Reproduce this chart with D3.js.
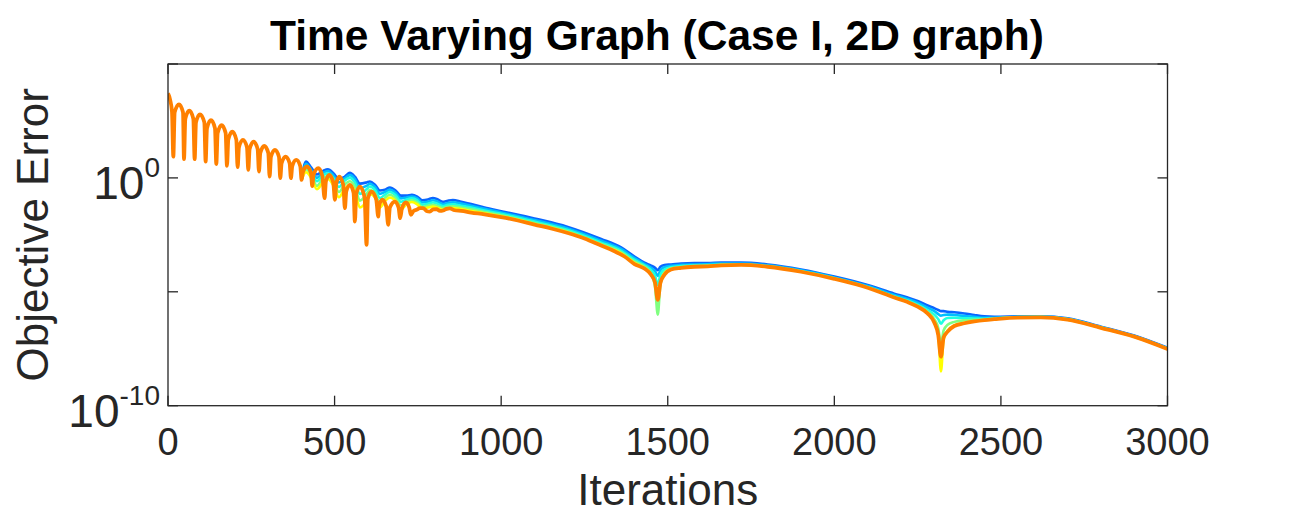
<!DOCTYPE html>
<html>
<head>
<meta charset="utf-8">
<script src="https://cdn.jsdelivr.net/npm/d3@7"></script>
<style>
  body { margin: 0; background: #fff; }
  svg { display: block; }
</style>
</head>
<body>
<div id="chart"></div>
<script>
// ---- data (error values stored as log10 exponents) ----
const xTickValues = [0, 500, 1000, 1500, 2000, 2500, 3000];
const yTickExps = [-10, -5, 0, 5];
const yLabelExps = [-10, 0];

// agent drawn last (orange), [iteration, log10(error)]
const orangeTrace = [
  [0,3.71],[6,3.45],[12,2.9],[16,0.93],
  [20,2.88],[33,3.23],[45,2.88],[48,0.82],
  [52,2.6],[64,2.95],[76,2.6],[80,0.82],
  [84,2.44],[96,2.79],[109,2.44],[113,0.72],
  [117,2.18],[129,2.53],[141,2.18],[145,0.61],
  [149,1.97],[161,2.32],[173,1.97],[177,0.53],
  [181,1.68],[193,2.03],[205,1.68],[209,0.47],
  [213,1.35],[225,1.67],[237,1.35],[241,0.35],
  [245,1.27],[257,1.59],[269,1.27],[273,0.28],
  [277,1.1],[289,1.40],[301,1.1],[305,0.06],
  [309,0.93],[321,1.23],[333,0.93],[337,-0.01],
  [341,0.65],[353,0.93],[365,0.65],[369,-0.01],
  [373,0.52],[385,0.79],[397,0.52],[401,-0.09],
  [405,0.25],[417,0.50],[429,0.22],[433,-0.36],
  [437,0.15],[451,0.43],[463,0.1],[470,-0.89],
  [474,-0.15],[484,0.13],[496,-0.2],[501,-0.96],
  [505,-0.25],[514,0.06],[526,-0.3],[531,-1.33],
  [535,-0.6],[546,-0.31],[557,-0.65],[561,-1.92],
  [565,-0.7],[576,-0.38],[590,-0.85],[596,-2.94],
  [600,-0.9],[611,-0.6],[625,-0.95],[631,-1.70],
  [634,-1.2],[643,-0.96],[655,-1.25],[661,-2.06],
  [666,-1.3],[681,-1.04],[692,-1.3],[697,-1.77],
  [702,-1.35],[714,-1.08],[724,-1.3],[729,-1.62],
  [737,-1.45],[746,-1.40],[756,-1.33],[766,-1.33],[776,-1.45],[786,-1.48],
  [796,-1.38],[806,-1.37],[816,-1.45],[826,-1.43],[836,-1.36],[846,-1.34],
  [860,-1.42],[880,-1.45],[910,-1.52],[950,-1.60],[1000,-1.72],[1050,-1.87],
  [1100,-2.05],[1150,-2.22],[1200,-2.42],[1250,-2.66],[1300,-2.97],[1340,-3.22],
  [1370,-3.45],[1400,-3.78],[1430,-3.98],[1450,-4.25],[1462,-4.6],[1470,-5.35],
  [1478,-4.6],[1490,-4.25],[1510,-4.02],[1540,-3.95],[1580,-3.9],[1620,-3.88],
  [1660,-3.84],[1720,-3.82],[1800,-3.9],[1900,-4.12],[2000,-4.43],[2100,-4.82],
  [2180,-5.25],[2220,-5.45],[2250,-5.65],[2280,-5.95],[2300,-6.35],[2312,-6.9],
  [2320,-7.85],[2328,-7.0],[2340,-6.75],[2360,-6.5],[2390,-6.38],[2420,-6.3],
  [2450,-6.24],[2480,-6.2],[2550,-6.13],[2620,-6.12],[2700,-6.22],[2800,-6.58],
  [2900,-6.97],[3000,-7.51]
];

// other agents share one iteration grid
const bgIters = [
  401, 414, 430, 447, 465, 480, 497, 513, 530, 546,
  561, 576, 596, 606, 621, 636, 651, 666, 683, 699,
  716, 732, 748, 763, 780, 795, 810, 825, 840, 855,
  880, 910, 950, 1000, 1100, 1200, 1300, 1360, 1400, 1430,
  1450, 1462, 1470, 1478, 1490, 1510, 1540, 1580, 1620, 1660,
  1720, 1800, 1900, 2000, 2100, 2180, 2220, 2250, 2280, 2300,
  2312, 2320, 2328, 2340, 2360, 2390, 2420, 2450, 2480, 2550,
  2620, 2700, 2800, 2900, 3000
];
const errBlue = [
  -0.09, 0.72, 0.45, 0.15, 0.30, 0.38, 0.20, -0.05, 0.05, 0.22,
  0.05, -0.25, -0.20, -0.16, -0.30, -0.55, -0.52, -0.42, -0.55, -0.78,
  -0.78, -0.74, -0.82, -0.98, -0.95, -0.88, -0.95, -1.05, -1.00, -0.97,
  -1.05, -1.15, -1.30, -1.46, -1.78, -2.15, -2.68, -3.05, -3.45, -3.72,
  -3.85, -3.95, -4.05, -3.90, -3.82, -3.80, -3.76, -3.74, -3.74, -3.72,
  -3.72, -3.80, -4.02, -4.33, -4.70, -5.08, -5.25, -5.40, -5.60, -5.72,
  -5.80, -5.85, -5.85, -5.88, -5.90, -5.95, -6.02, -6.08, -6.10, -6.08,
  -6.07, -6.16, -6.53, -6.92, -7.46
];
const errSky = [
  -0.09, 0.62, 0.35, 0.00, 0.22, 0.30, 0.10, -0.20, -0.02, 0.12,
  -0.05, -0.45, -0.35, -0.26, -0.40, -0.70, -0.62, -0.52, -0.65, -0.90,
  -0.86, -0.82, -0.90, -1.08, -1.05, -0.98, -1.05, -1.15, -1.10, -1.07,
  -1.13, -1.22, -1.36, -1.52, -1.85, -2.22, -2.76, -3.12, -3.52, -3.78,
  -3.95, -4.10, -4.30, -4.05, -3.92, -3.86, -3.82, -3.80, -3.79, -3.76,
  -3.76, -3.84, -4.06, -4.37, -4.75, -5.14, -5.32, -5.48, -5.70, -5.85,
  -5.98, -6.05, -6.02, -6.00, -6.02, -6.06, -6.10, -6.14, -6.14, -6.10,
  -6.09, -6.18, -6.55, -6.94, -7.48
];
const errCyan = [
  -0.09, 0.50, 0.25, -0.15, 0.12, 0.20, -0.02, -0.40, -0.12, 0.00,
  -0.20, -0.70, -0.50, -0.38, -0.52, -0.88, -0.74, -0.62, -0.76, -1.05,
  -0.95, -0.90, -0.98, -1.18, -1.14, -1.08, -1.14, -1.24, -1.18, -1.16,
  -1.22, -1.30, -1.43, -1.58, -1.92, -2.29, -2.84, -3.20, -3.60, -3.84,
  -4.05, -4.30, -4.70, -4.25, -4.02, -3.92, -3.87, -3.84, -3.83, -3.80,
  -3.79, -3.87, -4.09, -4.40, -4.79, -5.20, -5.38, -5.56, -5.80, -6.00,
  -6.20, -6.40, -6.25, -6.15, -6.14, -6.16, -6.17, -6.18, -6.16, -6.11,
  -6.10, -6.20, -6.56, -6.95, -7.49
];
const errGreen = [
  -0.09, 0.38, 0.12, -0.35, -0.02, 0.08, -0.18, -0.62, -0.30, -0.15,
  -0.40, -1.00, -0.70, -0.52, -0.68, -1.10, -0.88, -0.74, -0.90, -1.20,
  -1.05, -0.98, -1.08, -1.28, -1.22, -1.18, -1.24, -1.32, -1.27, -1.25,
  -1.30, -1.38, -1.50, -1.64, -1.98, -2.35, -2.90, -3.27, -3.68, -3.90,
  -4.20, -4.80, -6.00, -4.70, -4.15, -3.97, -3.91, -3.87, -3.86, -3.82,
  -3.81, -3.89, -4.11, -4.42, -4.81, -5.23, -5.42, -5.61, -5.88, -6.20,
  -6.60, -7.30, -6.70, -6.45, -6.32, -6.25, -6.23, -6.21, -6.18, -6.12,
  -6.11, -6.21, -6.57, -6.96, -7.50
];
const errYellow = [
  -0.09, 0.25, 0.00, -0.50, -0.20, -0.05, -0.35, -0.85, -0.50, -0.30,
  -0.60, -1.30, -1.00, -0.70, -0.85, -1.30, -1.02, -0.86, -1.02, -1.40,
  -1.15, -1.06, -1.16, -1.36, -1.30, -1.26, -1.32, -1.40, -1.35, -1.32,
  -1.37, -1.45, -1.55, -1.68, -2.02, -2.39, -2.94, -3.31, -3.73, -3.95,
  -4.22, -4.60, -5.20, -4.55, -4.20, -4.00, -3.93, -3.89, -3.87, -3.83,
  -3.81, -3.89, -4.11, -4.42, -4.81, -5.24, -5.44, -5.64, -5.93, -6.30,
  -6.90, -8.50, -7.10, -6.70, -6.48, -6.36, -6.29, -6.24, -6.20, -6.13,
  -6.12, -6.22, -6.58, -6.97, -7.51
];

const bgSeries = [
  { color: "#0a66ff", values: errBlue },
  { color: "#00bfff", values: errSky },
  { color: "#20ffdf", values: errCyan },
  { color: "#80ff80", values: errGreen },
  { color: "#ffff00", values: errYellow }
];

// ---- layout ----
const width = 1290, height = 520;
const plot = { left: 168, right: 1167.5, top: 64, bottom: 405.7 };
const font = "'Liberation Sans', Helvetica, Arial, sans-serif";
const axisColor = "#262626";

const svg = d3.select("#chart").append("svg")
  .attr("width", width)
  .attr("height", height);

const x = d3.scaleLinear().domain([0, 3000]).range([plot.left, plot.right]);
const y = d3.scaleLog().domain([1e-10, 1e5]).range([plot.bottom, plot.top]);

svg.append("defs").append("clipPath").attr("id", "plot-clip")
  .append("rect")
  .attr("x", plot.left).attr("y", plot.top)
  .attr("width", plot.right - plot.left)
  .attr("height", plot.bottom - plot.top);

const line = d3.line()
  .x(d => x(d[0]))
  .y(d => y(Math.pow(10, d[1])))
  .curve(d3.curveMonotoneX);

const lines = svg.append("g").attr("clip-path", "url(#plot-clip)");

bgSeries.forEach(s => {
  const pts = bgIters.map((it, i) => [it, s.values[i]]);
  lines.append("path")
    .attr("d", line(pts))
    .attr("fill", "none")
    .attr("stroke", s.color)
    .attr("stroke-width", 2.6)
    .attr("stroke-linejoin", "round");
});

lines.append("path")
  .attr("d", line(orangeTrace))
  .attr("fill", "none")
  .attr("stroke", "#ff8000")
  .attr("stroke-width", 3.8)
  .attr("stroke-linejoin", "round");

// ---- axes (MATLAB style box with inward ticks) ----
const box = svg.append("g");
box.append("rect")
  .attr("x", plot.left).attr("y", plot.top)
  .attr("width", plot.right - plot.left)
  .attr("height", plot.bottom - plot.top)
  .attr("fill", "none")
  .attr("stroke", axisColor)
  .attr("stroke-width", 1.3);

const tickLen = 10;
xTickValues.forEach(v => {
  box.append("line")
    .attr("x1", x(v)).attr("x2", x(v))
    .attr("y1", plot.bottom).attr("y2", plot.bottom - tickLen)
    .attr("stroke", axisColor).attr("stroke-width", 1.3);
  box.append("line")
    .attr("x1", x(v)).attr("x2", x(v))
    .attr("y1", plot.top).attr("y2", plot.top + tickLen)
    .attr("stroke", axisColor).attr("stroke-width", 1.3);
  svg.append("text")
    .attr("x", x(v))
    .attr("y", 455)
    .attr("text-anchor", "middle")
    .style("font-family", font)
    .style("font-size", "38px")
    .style("fill", axisColor)
    .text(v);
});

yTickExps.forEach(e => {
  const yy = y(Math.pow(10, e));
  box.append("line")
    .attr("x1", plot.left).attr("x2", plot.left + tickLen)
    .attr("y1", yy).attr("y2", yy)
    .attr("stroke", axisColor).attr("stroke-width", 1.3);
  box.append("line")
    .attr("x1", plot.right).attr("x2", plot.right - tickLen)
    .attr("y1", yy).attr("y2", yy)
    .attr("stroke", axisColor).attr("stroke-width", 1.3);
});

yLabelExps.forEach(e => {
  const yy = y(Math.pow(10, e));
  const t = svg.append("text")
    .attr("x", 160)
    .attr("y", yy + 21)
    .attr("text-anchor", "end")
    .style("font-family", font)
    .style("font-size", "46px")
    .style("fill", axisColor);
  t.append("tspan").text("10");
  t.append("tspan")
    .attr("dy", -22)
    .style("font-size", "28px")
    .text(e);
});

// ---- titles ----
svg.append("text")
  .attr("x", 657)
  .attr("y", 50)
  .attr("text-anchor", "middle")
  .style("font-family", font)
  .style("font-size", "42.5px")
  .style("font-weight", "bold")
  .style("fill", "#000")
  .text("Time Varying Graph (Case I, 2D graph)");

svg.append("text")
  .attr("x", (plot.left + plot.right) / 2)
  .attr("y", 505)
  .attr("text-anchor", "middle")
  .style("font-family", font)
  .style("font-size", "44px")
  .style("fill", axisColor)
  .text("Iterations");

svg.append("text")
  .attr("transform", `translate(48,${(plot.top + plot.bottom) / 2}) rotate(-90)`)
  .attr("text-anchor", "middle")
  .style("font-family", font)
  .style("font-size", "44px")
  .style("fill", axisColor)
  .text("Objective Error");
</script>
</body>
</html>
